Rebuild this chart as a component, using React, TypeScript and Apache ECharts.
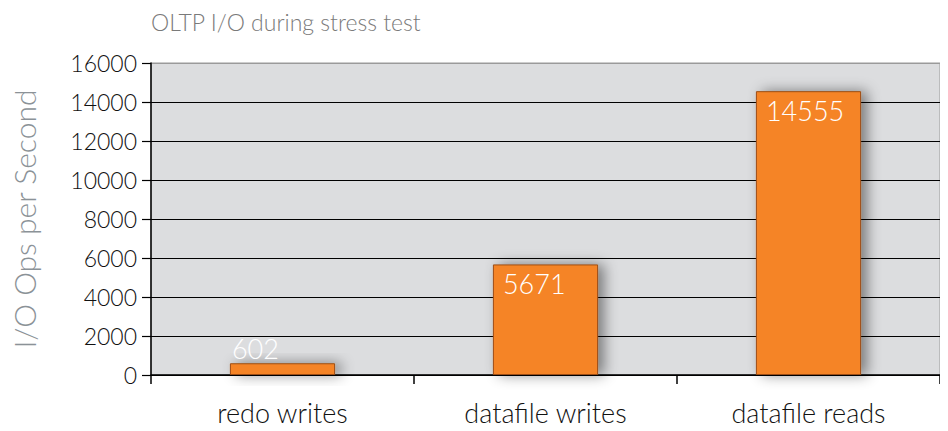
import React, { useEffect, useRef } from "react";
import * as echarts from "echarts";

const categories = ["redo writes", "datafile writes", "datafile reads"];
const values = [602, 5671, 14555];
const yTicks = { min: 0, max: 16000, interval: 2000 };
const titleText = "OLTP I/O during stress test";
const yName = "I/O Ops per Second";

export default function App() {
  const ref = useRef<HTMLDivElement>(null);
  useEffect(() => {
    if (!ref.current) return;
    const chart = echarts.init(ref.current, null, { renderer: "svg" });
    const font = "Lato, 'Open Sans', sans-serif";
    chart.setOption({
      animation: false,
      textStyle: { fontFamily: font },
      title: {
        text: titleText,
        left: 146,
        top: 5,
        textStyle: { fontSize: 23, fontWeight: 300, color: "#7a7a7a", fontFamily: font },
      },
      grid: {
        left: 151,
        right: 8,
        top: 63,
        bottom: 56,
        show: true,
        backgroundColor: "#dcdddf",
        borderColor: "#9a9a9a",
        borderWidth: 1,
      },
      xAxis: {
        type: "category",
        data: categories,
        axisLine: { show: true, lineStyle: { color: "#000", width: 1.5 } },
        axisTick: { show: true, length: 9, lineStyle: { color: "#000", width: 1.5 } },
        axisLabel: { fontSize: 27, color: "#111", margin: 24, fontFamily: font, fontWeight: 300 },
      },
      yAxis: {
        type: "value",
        min: yTicks.min,
        max: yTicks.max,
        interval: yTicks.interval,
        name: yName,
        nameLocation: "middle",
        nameGap: 112,
        nameTextStyle: { fontSize: 30, color: "#8b9297", fontWeight: 300, fontFamily: font },
        axisLine: { show: true, lineStyle: { color: "#000", width: 1.5 } },
        axisTick: { show: true, length: 9, lineStyle: { color: "#000", width: 1.2 } },
        axisLabel: {
          fontSize: 23,
          color: "#111",
          margin: 14,
          fontFamily: font,
          fontWeight: 300,
          formatter: (v: number) => String(v),
        },
        splitLine: {
          show: true,
          lineStyle: {
            color: ["#000", "#000", "#000", "#000", "#000", "#000", "#000", "#000", "#9a9a9a"],
            width: 1,
          },
        },
      },
      series: [
        {
          type: "bar",
          barWidth: "40%",
          data: values.map((v, i) => ({
            value: v,
            label: {
              show: true,
              position: i === 0 ? [2, -28] : [10, 6],
            },
          })),
          itemStyle: {
            color: "#f58426",
            borderColor: "#9c4d12",
            borderWidth: 1,
            shadowBlur: 14,
            shadowColor: "rgba(0,0,0,0.45)",
            shadowOffsetX: 6,
            shadowOffsetY: 0,
          },
          label: {
            show: true,
            color: "#fff",
            fontSize: 27,
            fontWeight: 300,
            fontFamily: font,
          },
        },
      ],
    });
    return () => chart.dispose();
  }, []);
  return <div ref={ref} style={{ width: 948, height: 431, margin: -8 }} />;
}
